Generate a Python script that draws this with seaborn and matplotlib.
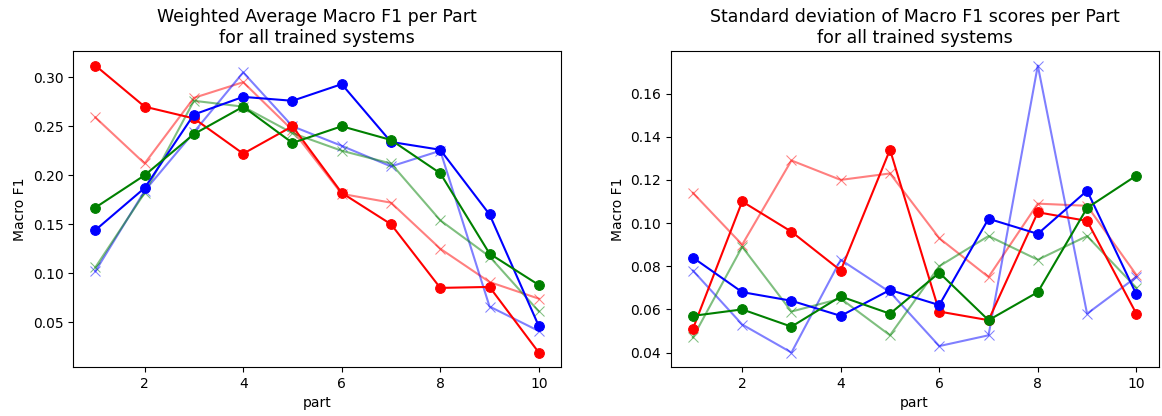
import numpy as np
import pandas as pd
import matplotlib
matplotlib.use("Agg")
import matplotlib.pyplot as plt
import seaborn as sns

parts = list(range(1, 11))

# Weighted average macro F1 per part
avg_red = [0.312, 0.270, 0.258, 0.222, 0.250, 0.182, 0.150, 0.085, 0.086, 0.019]
avg_blue = [0.144, 0.187, 0.262, 0.280, 0.276, 0.293, 0.234, 0.226, 0.160, 0.046]
avg_green = [0.167, 0.200, 0.242, 0.270, 0.233, 0.250, 0.236, 0.202, 0.120, 0.088]
avg_red_x = [0.259, 0.212, 0.279, 0.295, 0.246, 0.181, 0.172, 0.125, 0.091, 0.074]
avg_blue_x = [0.102, 0.184, 0.244, 0.305, 0.250, 0.230, 0.209, 0.225, 0.066, 0.041]
avg_green_x = [0.106, 0.182, 0.276, 0.270, 0.243, 0.225, 0.212, 0.154, 0.117, 0.061]

# standard deviation of macro F1 per part
std_red = [0.051, 0.110, 0.096, 0.078, 0.134, 0.059, 0.055, 0.105, 0.101, 0.058]
std_blue = [0.084, 0.068, 0.064, 0.057, 0.069, 0.062, 0.102, 0.095, 0.115, 0.067]
std_green = [0.057, 0.060, 0.052, 0.066, 0.058, 0.077, 0.055, 0.068, 0.107, 0.122]
std_red_x = [0.114, 0.090, 0.129, 0.120, 0.123, 0.093, 0.075, 0.109, 0.108, 0.076]
std_blue_x = [0.078, 0.053, 0.040, 0.083, 0.068, 0.043, 0.048, 0.173, 0.058, 0.075]
std_green_x = [0.047, 0.089, 0.059, 0.065, 0.048, 0.080, 0.094, 0.083, 0.094, 0.070]

fig, axes = plt.subplots(1, 2, figsize=(11.62, 4.16), dpi=100)


def draw(ax, circles, crosses, title):
    # faded x-marker lines first
    for vals, col in zip(crosses, ['red', 'blue', 'green']):
        sns.lineplot(x=parts, y=vals, ax=ax, color=col, marker='x', alpha=0.5,
                     markersize=7, markeredgecolor=col, linewidth=1.5)
    for vals, col in zip(circles, ['red', 'blue', 'green']):
        sns.lineplot(x=parts, y=vals, ax=ax, color=col, marker='o',
                     markersize=7, markeredgecolor=col, linewidth=1.5)
    ax.set_title(title, fontsize=12.5)
    ax.set_xlabel('part')
    ax.set_ylabel('Macro F1')


draw(axes[0], [avg_red, avg_blue, avg_green], [avg_red_x, avg_blue_x, avg_green_x],
     'Weighted Average Macro F1 per Part\nfor all trained systems')
draw(axes[1], [std_red, std_blue, std_green], [std_red_x, std_blue_x, std_green_x],
     'Standard deviation of Macro F1 scores per Part\nfor all trained systems')

plt.subplots_adjust(left=0.063, right=0.997, top=0.877, bottom=0.118, wspace=0.225)
plt.savefig('out.png')
